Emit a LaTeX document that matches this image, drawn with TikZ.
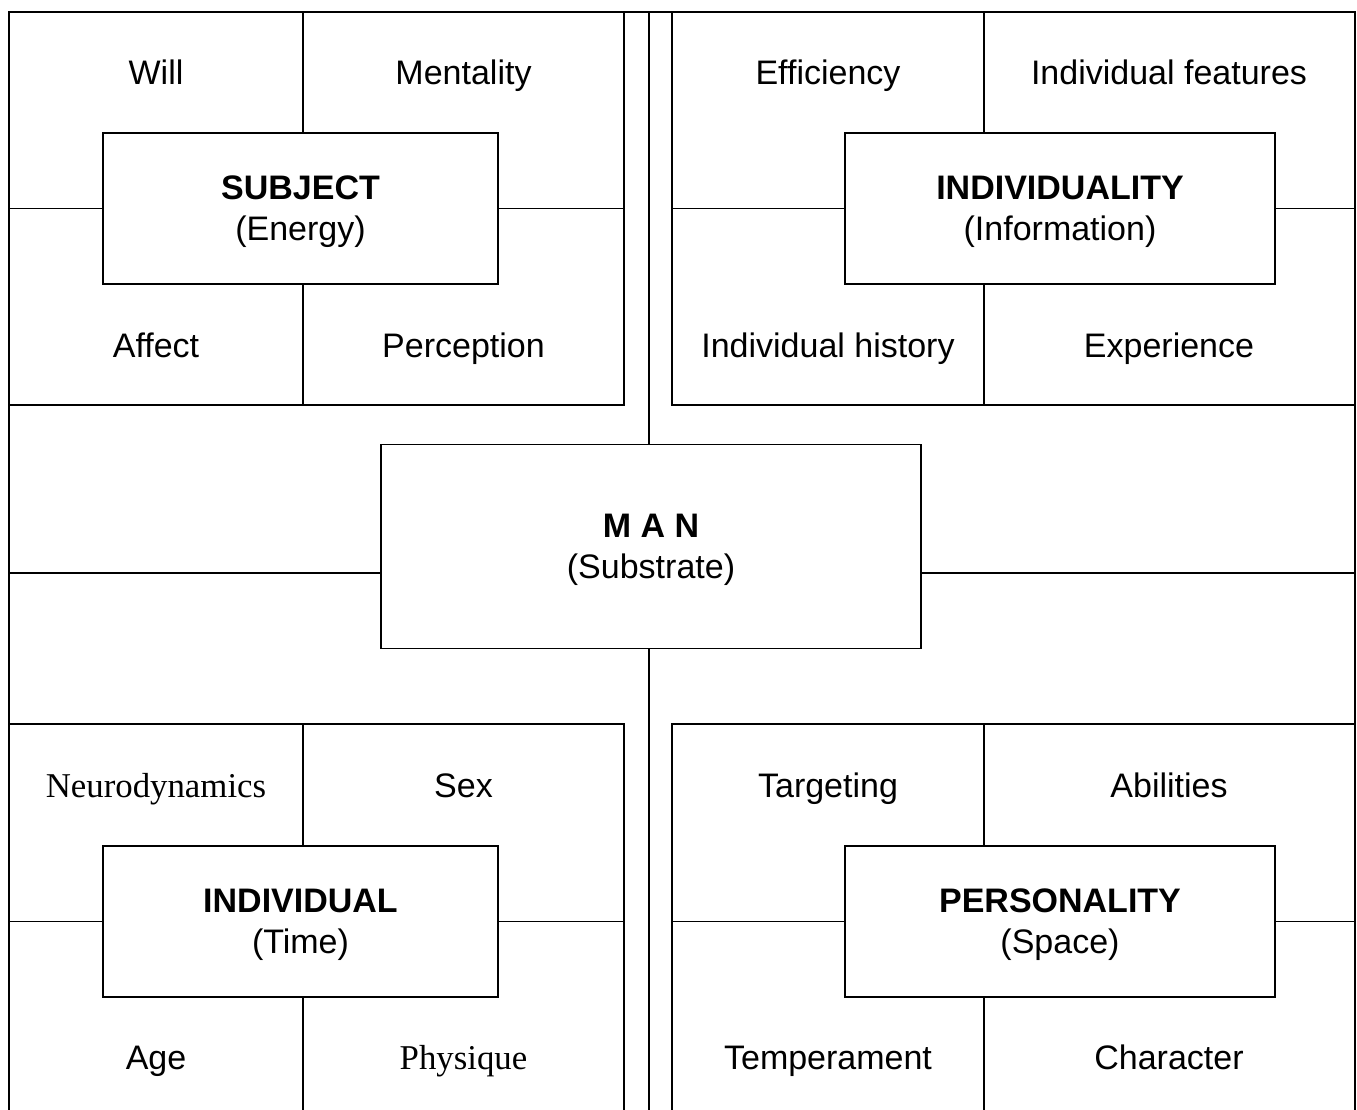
\documentclass[tikz,border=0pt]{standalone}
\usepackage{fontspec}
\setmainfont{Liberation Sans}
\newfontfamily\serifA{Liberation Serif}
\newcommand\mystrutA{\rule{0pt}{30pt}}
\newcommand\mystrutB{\rule[-6pt]{0pt}{6pt}}
\begin{document}
\begin{tikzpicture}[x=1pt,y=-1pt,
  rule/.style={line width=1.9pt, line cap=butt, line join=miter},
  core/.style={draw, rule, rectangle, inner sep=0pt, align=center, font=\fontsize{34}{41}\selectfont},
  small/.style={core, minimum height=151pt},
  lbl/.style={inner sep=0pt, anchor=base, font=\fontsize{34}{41}\selectfont},
  slbl/.style={inner sep=0pt, anchor=base, font=\serifA\fontsize{34.8}{41}\selectfont}]
\useasboundingbox (0,0) rectangle (1357,1110);

% central boxes
\node[small, minimum width=395pt] (subj) at (300.5,208.5) {\mystrutA\textbf{SUBJECT}\\(Energy)\mystrutB};
\node[small, minimum width=430pt] (indy) at (1060,208.5) {\mystrutA\textbf{INDIVIDUALITY}\\(Information)\mystrutB};
\node[small, minimum width=395pt] (indv) at (300.5,921.5) {\mystrutA\textbf{INDIVIDUAL}\\(Time)\mystrutB};
\node[small, minimum width=430pt] (pers) at (1060,921.5) {\mystrutA\textbf{PERSONALITY}\\(Space)\mystrutB};
\node[core, minimum width=540pt, minimum height=204pt] (man) at (651,546.5) {\mystrutA\textbf{M A N}\\(Substrate)\mystrutB};

% frame coordinates
\coordinate (tl) at (9,12);
\coordinate (tr) at (1355,12);
\coordinate (bl) at (9,1110);
\coordinate (br) at (1355,1110);
\coordinate (midt) at (649,12);
\coordinate (midb) at (649,1110);
\coordinate (hl) at (9,573);
\coordinate (hr) at (1355,573);
\coordinate (dLt) at (303,12);
\coordinate (dLb) at (303,405);
\coordinate (dRt) at (984,12);
\coordinate (dRb) at (984,405);
\coordinate (eLt) at (303,724);
\coordinate (eLb) at (303,1110);
\coordinate (eRt) at (984,724);
\coordinate (eRb) at (984,1110);

% outer frame
\draw[rule] (bl) -- (tl) -- (tr) -- (br);
% quadrant frames
\draw[rule] (9,405) -- (624,405) -- (624,12);
\draw[rule] (672,12) -- (672,405) -- (1355,405);
\draw[rule] (9,724) -- (624,724) -- (624,1110);
\draw[rule] (672,1110) -- (672,724) -- (1355,724);
% central axis
\draw[rule] (midt) -- (midt |- man.north);
\draw[rule] (man.south -| midb) -- (midb);
\draw[rule] (hl) -- (man.west |- hl);
\draw[rule] (man.east |- hr) -- (hr);

% quadrant dividers
\draw[rule] (dLt) -- (dLt |- subj.north);
\draw[rule] (subj.south -| dLb) -- (dLb);
\draw[rule] (subj.west -| tl) -- (subj.west);
\draw[rule] (subj.east) -- (subj.east -| 624,0);
\draw[rule] (dRt) -- (dRt |- indy.north);
\draw[rule] (indy.south -| dRb) -- (dRb);
\draw[rule] (indy.west -| 672,0) -- (indy.west);
\draw[rule] (indy.east) -- (indy.east -| tr);
\draw[rule] (eLt) -- (eLt |- indv.north);
\draw[rule] (indv.south -| eLb) -- (eLb);
\draw[rule] (indv.west -| tl) -- (indv.west);
\draw[rule] (indv.east) -- (indv.east -| 624,0);
\draw[rule] (eRt) -- (eRt |- pers.north);
\draw[rule] (pers.south -| eRb) -- (eRb);
\draw[rule] (pers.west -| 672,0) -- (pers.west);
\draw[rule] (pers.east) -- (pers.east -| tr);

% cell labels
\node[lbl] (will) at (156,85) {Will};
\node[lbl] (ment) at (463.5,85) {Mentality};
\node[lbl] (aff) at (156,357.5) {Affect};
\node[lbl] (perc) at (463.5,357.5) {Perception};
\node[lbl] (eff) at (828,85) {Efficiency};
\node[lbl] (indf) at (1169,85) {Individual features};
\node[lbl] (indh) at (828,357.5) {Individual history};
\node[lbl] (exp) at (1169,357.5) {Experience};
\node[slbl] (neuro) at (156,797) {Neurodynamics};
\node[lbl] (sex) at (463.5,797) {Sex};
\node[lbl] (age) at (156,1069) {Age};
\node[slbl] (phys) at (463.5,1069) {Physique};
\node[lbl] (targ) at (828,797) {Targeting};
\node[lbl] (abil) at (1169,797) {Abilities};
\node[lbl] (temp) at (828,1069) {Temperament};
\node[lbl] (char) at (1169,1069) {Character};
\end{tikzpicture}
\end{document}
